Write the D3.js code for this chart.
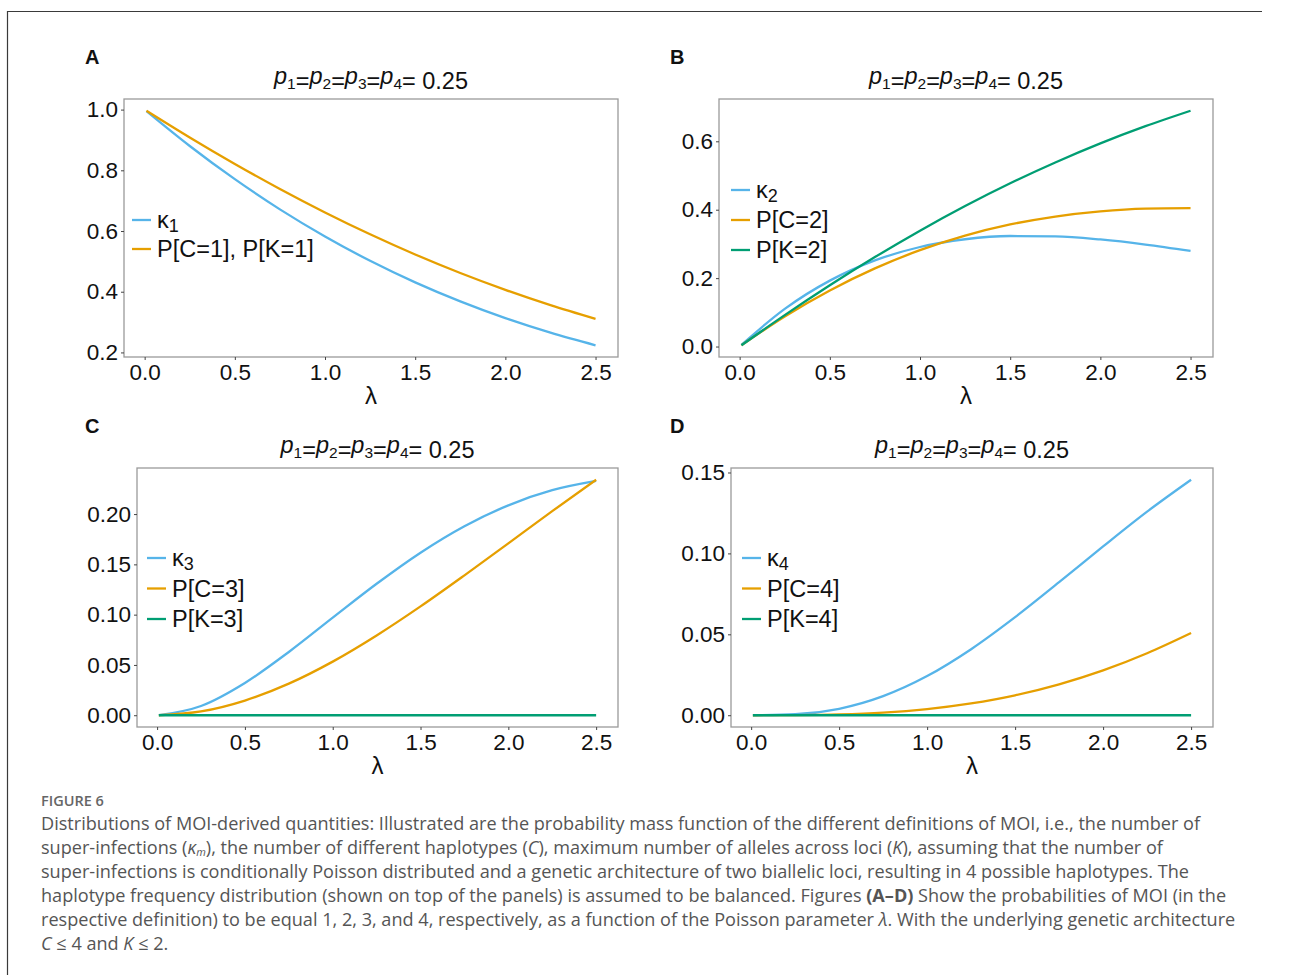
<!DOCTYPE html>
<html>
<head>
<meta charset="utf-8">
<script src="https://cdn.jsdelivr.net/npm/d3@7"></script>
<style>
  body { margin: 0; background: #fff; }
  svg { display: block; }
</style>
</head>
<body>
<div id="figure"></div>
<script>
// values, at these lambda points
const lambda = [0.01, 0.25, 0.5, 0.75, 1.0, 1.25, 1.5, 1.75, 2.0, 2.25, 2.5];

// panel A
const kappa1 = [0.995, 0.8802, 0.7708, 0.6714, 0.582, 0.5019, 0.4308, 0.3681, 0.313, 0.2651, 0.2236];
const pC1 = [0.9963, 0.9083, 0.821, 0.7385, 0.6612, 0.5892, 0.5227, 0.4617, 0.4062, 0.3558, 0.3106];

// panel B
const kappa2 = [0.005, 0.11, 0.1927, 0.2518, 0.291, 0.3137, 0.3231, 0.3221, 0.313, 0.2982, 0.2795];
const pC2 = [0.0038, 0.0879, 0.164, 0.2285, 0.2817, 0.3242, 0.3568, 0.3801, 0.3952, 0.403, 0.4045];
const pK2 = [0.0037, 0.0917, 0.179, 0.2615, 0.3388, 0.4108, 0.4773, 0.5382, 0.5939, 0.6442, 0.6894];

// panel C
const kappa3 = [0.0, 0.0092, 0.0321, 0.0629, 0.097, 0.1307, 0.1616, 0.1879, 0.2087, 0.2237, 0.2329];
const pC3 = [0.0, 0.0038, 0.0146, 0.0314, 0.0533, 0.0793, 0.1082, 0.1391, 0.1709, 0.2029, 0.2341];
const pK3 = [0, 0, 0, 0, 0, 0, 0, 0, 0, 0, 0];

// panel D
const kappa4 = [0.0, 0.0006, 0.004, 0.0118, 0.0242, 0.0408, 0.0606, 0.0822, 0.1043, 0.1258, 0.1455];
const pC4 = [0.0, 0.0001, 0.0005, 0.0016, 0.0038, 0.0073, 0.0123, 0.0191, 0.0277, 0.0383, 0.0508];
const pK4 = [0, 0, 0, 0, 0, 0, 0, 0, 0, 0, 0];

const xTicks = [0, 0.5, 1.0, 1.5, 2.0, 2.5];
const yTicksA = [0.2, 0.4, 0.6, 0.8, 1.0];
const yTicksB = [0.0, 0.2, 0.4, 0.6];
const yTicksC = [0.0, 0.05, 0.1, 0.15, 0.2];
const yTicksD = [0.0, 0.05, 0.1, 0.15];

const legendA = ["κ1", "P[C=1], P[K=1]"];
const legendB = ["κ2", "P[C=2]", "P[K=2]"];
const legendC = ["κ3", "P[C=3]", "P[K=3]"];
const legendD = ["κ4", "P[C=4]", "P[K=4]"];

const panelLetters = ["A", "B", "C", "D"];

const blue = "#56B4E9",
  orange = "#E69F00",
  green = "#009E73";

const width = 1290,
  height = 975,
  axisFont = "'Liberation Sans', Arial, Helvetica, sans-serif",
  captionFont = "'Open Sans', 'Noto Sans', sans-serif";

// where each plot box sits on the page
const panels = [
  { left: 124, right: 618, top: 99, bottom: 357, yTicks: yTicksA, fmt: ".1f",
    series: [kappa1, pC1], colors: [blue, orange], legend: legendA, lx: 132, ly: 220, gap: 29 },
  { left: 719, right: 1213, top: 99, bottom: 357, yTicks: yTicksB, fmt: ".1f",
    series: [kappa2, pC2, pK2], colors: [blue, orange, green], legend: legendB, lx: 731, ly: 190, gap: 30 },
  { left: 137, right: 618, top: 468, bottom: 727, yTicks: yTicksC, fmt: ".2f",
    series: [kappa3, pC3, pK3], colors: [blue, orange, green], legend: legendC, lx: 147, ly: 558, gap: 30.5 },
  { left: 731, right: 1213, top: 468, bottom: 727, yTicks: yTicksD, fmt: ".2f",
    series: [kappa4, pC4, pK4], colors: [blue, orange, green], legend: legendD, lx: 742, ly: 558, gap: 30.5 },
];

// ggplot style 5% padding around the data range
function expand(ext) {
  const pad = (ext[1] - ext[0]) * 0.05;
  return [ext[0] - pad, ext[1] + pad];
}

const svg = d3
  .select("#figure")
  .append("svg")
  .attr("width", width)
  .attr("height", height);

// thin frame round the figure (top and left only, like the page)
svg
  .append("path")
  .attr("d", "M7.5,975V11.5H1262")
  .attr("fill", "none")
  .attr("stroke", "#3a3a3a")
  .attr("stroke-width", 1.2);

panels.forEach((p, k) => {
  const x = d3.scaleLinear().domain(expand(d3.extent(lambda))).range([p.left, p.right]);
  const y = d3
    .scaleLinear()
    .domain(expand(d3.extent(p.series.flat())))
    .range([p.bottom, p.top]);

  const g = svg.append("g");

  // panel letter
  g.append("text")
    .attr("x", k % 2 === 0 ? 85 : 670)
    .attr("y", p.top - 35)
    .attr("font-family", "Arial, 'Liberation Sans', sans-serif")
    .attr("font-weight", "bold")
    .attr("font-size", "20px")
    .attr("fill", "#111")
    .text(panelLetters[k]);

  // title p1=p2=p3=p4= 0.25
  const title = g
    .append("text")
    .attr("x", (p.left + p.right) / 2)
    .attr("y", p.top - 15)
    .attr("text-anchor", "middle")
    .attr("font-family", axisFont)
    .attr("font-size", "23.5px")
    .attr("fill", "#111");
  [1, 2, 3, 4].forEach((i) => {
    title.append("tspan").attr("font-style", "italic").attr("dy", i === 1 ? 0 : -5).text("p");
    title.append("tspan").attr("font-size", "15.5px").attr("dy", 5).text(i);
    title.append("tspan").attr("dy", 0).text(i < 4 ? "=" : "= 0.25");
  });

  // plot box
  g.append("rect")
    .attr("x", p.left)
    .attr("y", p.top)
    .attr("width", p.right - p.left)
    .attr("height", p.bottom - p.top)
    .attr("fill", "none")
    .attr("stroke", "#9a9a9a")
    .attr("stroke-width", 1.3);

  const styleAxis = (sel) => {
    sel.select(".domain").remove();
    sel.selectAll(".tick line").attr("stroke", "#444");
    sel
      .selectAll(".tick text")
      .attr("fill", "#111")
      .attr("font-family", axisFont)
      .attr("font-size", "22.5px");
  };

  g.append("g")
    .attr("transform", `translate(${p.left},0)`)
    .call(d3.axisLeft(y).tickValues(p.yTicks).tickFormat(d3.format(p.fmt)).tickSize(3).tickPadding(3))
    .call(styleAxis);

  g.append("g")
    .attr("transform", `translate(0,${p.bottom})`)
    .call(d3.axisBottom(x).tickValues(xTicks).tickFormat(d3.format(".1f")).tickSize(3).tickPadding(4))
    .call(styleAxis);

  // lambda axis title
  g.append("text")
    .attr("x", (p.left + p.right) / 2)
    .attr("y", p.bottom + 47)
    .attr("text-anchor", "middle")
    .attr("font-family", axisFont)
    .attr("font-size", "24px")
    .attr("fill", "#111")
    .text("λ");

  // curves
  const line = d3
    .line()
    .x((d, i) => x(lambda[i]))
    .y((d) => y(d))
    .curve(d3.curveMonotoneX);

  p.series.forEach((values, i) => {
    g.append("path")
      .datum(values)
      .attr("d", line)
      .attr("fill", "none")
      .attr("stroke", p.colors[i])
      .attr("stroke-width", 2.3);
  });

  // legend
  p.legend.forEach((label, i) => {
    const ly = p.ly + i * p.gap;
    g.append("line")
      .attr("x1", p.lx)
      .attr("x2", p.lx + 19)
      .attr("y1", ly)
      .attr("y2", ly)
      .attr("stroke", p.colors[i])
      .attr("stroke-width", 2.3);
    const t = g
      .append("text")
      .attr("x", p.lx + 25)
      .attr("y", ly + 8)
      .attr("font-family", axisFont)
      .attr("font-size", "23.5px")
      .attr("fill", "#111");
    if (label.startsWith("κ")) {
      t.append("tspan").text("κ");
      t.append("tspan").attr("font-size", "18px").attr("dy", 4).text(label.slice(1));
    } else {
      t.text(label);
    }
  });
});

// caption under the panels
svg
  .append("text")
  .attr("x", 41)
  .attr("y", 806)
  .attr("font-family", captionFont)
  .attr("font-size", "14.5px")
  .attr("font-weight", 600)
  .attr("fill", "#666")
  .text("FIGURE 6");

const captionLines = [
  [["Distributions of MOI-derived quantities: Illustrated are the probability mass function of the different definitions of MOI, i.e., the number of"]],
  [
    ["super-infections ("], ["κ", "i"], ["m", "sub"], ["), the number of different haplotypes ("], ["C", "i"],
    ["), maximum number of alleles across loci ("], ["K", "i"], ["), assuming that the number of"],
  ],
  [["super-infections is conditionally Poisson distributed and a genetic architecture of two biallelic loci, resulting in 4 possible haplotypes. The"]],
  [
    ["haplotype frequency distribution (shown on top of the panels) is assumed to be balanced. Figures "], ["(A–D)", "b"],
    [" Show the probabilities of MOI (in the"],
  ],
  [
    ["respective definition) to be equal 1, 2, 3, and 4, respectively, as a function of the Poisson parameter "], ["λ", "i"],
    [". With the underlying genetic architecture"],
  ],
  [["C", "i"], [" ≤ 4 and "], ["K", "i"], [" ≤ 2."]],
];

captionLines.forEach((parts, i) => {
  const t = svg
    .append("text")
    .attr("x", 41)
    .attr("y", 830 + i * 23.9)
    .attr("font-family", captionFont)
    .attr("font-size", "18.1px")
    .attr("fill", "#555");
  let shifted = false;
  parts.forEach(([s, style]) => {
    const span = t.append("tspan").text(s);
    if (style === "i") span.attr("font-style", "italic");
    if (style === "b") span.attr("font-weight", "bold");
    if (style === "sub") {
      span.attr("font-style", "italic").attr("font-size", "11px").attr("dy", 2);
      shifted = true;
    } else if (shifted) {
      span.attr("dy", -2);
      shifted = false;
    }
  });
});
</script>
</body>
</html>
